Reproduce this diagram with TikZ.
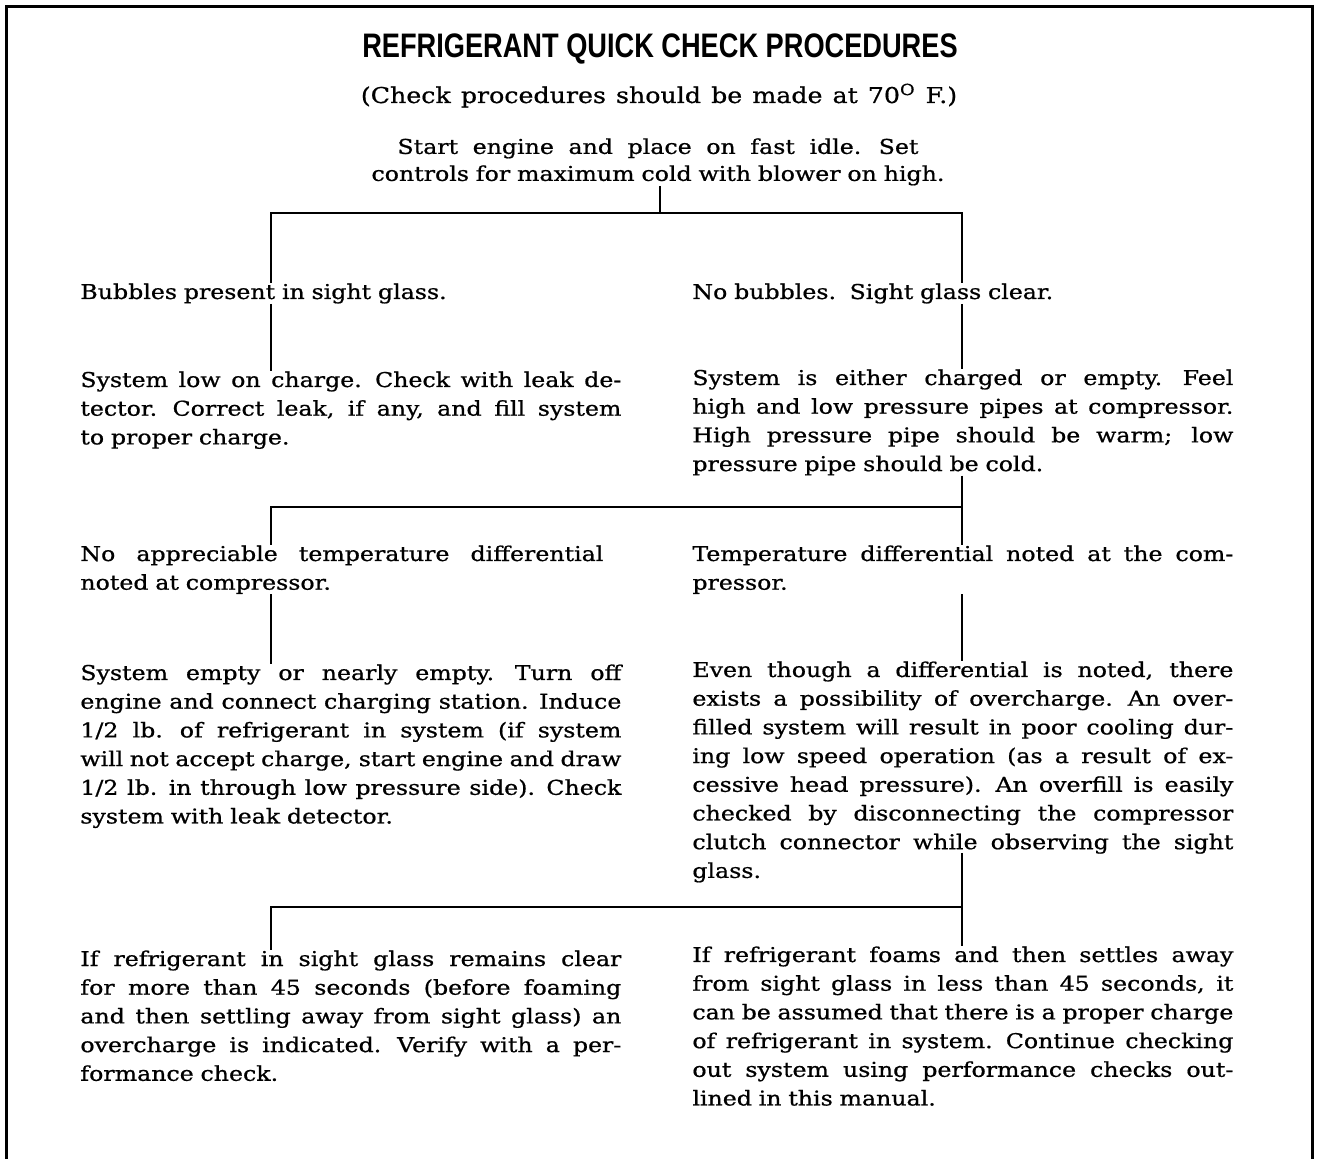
\documentclass[tikz,border=0pt]{standalone}
\usepackage{fontspec}
\setmainfont{DejaVu Serif}[FakeStretch=1.16,FakeBold=0.8,WordSpace=1.25]
\newfontfamily\headfont{Liberation Sans}[FakeStretch=0.80]
\usetikzlibrary{positioning}

% width of one column of text, and a line spread out to it
\newlength\colw
\setlength\colw{270.5pt}
\newcommand\jline[2][\colw]{\makebox[#1][s]{\spaceskip=\fontdimen2\font plus 1fil minus \fontdimen4\font
  \xspaceskip=1.3\fontdimen2\font plus 1fil minus \fontdimen4\font #2}}

\begin{document}
\begin{tikzpicture}[x=0.5pt,y=-0.5pt,
  txt/.style={anchor=base west,inner sep=0pt,text width=\colw,align=left,font=\fontsize{10.2}{14.35}\selectfont},
  link/.style={line width=1pt},
  outer/.style={line width=1.5pt}]
\useasboundingbox (0,0) rectangle (1318,1159);
\draw[outer] (6,1159) -- (6,7) -- (1312,7) -- (1312,1159);

% heading
\node[anchor=base,inner sep=0pt,font=\headfont\bfseries\fontsize{17}{20}\selectfont] (title) at (660,58) {REFRIGERANT QUICK CHECK PROCEDURES};
\node[anchor=base,inner sep=0pt,font=\fontsize{10.9}{14}\selectfont] (sub) at (659,103) {(Check procedures should be made at 70\textsuperscript{O} F.)};
\node[anchor=north,align=center,inner sep=0pt,font=\fontsize{10.2}{13.5}\selectfont] (start) at (658,138)
  {\jline[260.5pt]{Start engine and place on fast idle. Set}\\
   \jline[286.5pt]{controls for maximum cold with blower on high.}};

% first pair
\node[txt] (bub) at (80,299) {Bubbles present in sight glass.};
\node[txt] (nobub) at (692,299) {No bubbles.\ \ Sight glass clear.};

\node[txt] (low) at (80,387) {\jline{System low on charge. Check with leak de-}\\
  \jline{tector. Correct leak, if any, and fill system}\\
  to proper charge.};
\node[txt] (either) at (692,385) {\jline{System is either charged or empty. Feel}\\
  \jline{high and low pressure pipes at compressor.}\\
  \jline{High pressure pipe should be warm; low}\\
  pressure pipe should be cold.};

% second pair
\node[txt] (noapp) at (80,561) {\jline[261.5pt]{No appreciable temperature differential}\\
  noted at compressor.};
\node[txt] (tdiff) at (692,561) {\jline{Temperature differential noted at the com-}\\
  pressor.};

\node[txt] (empty) at (80,680) {\jline{System empty or nearly empty. Turn off}\\
  \jline{engine and connect charging station. Induce}\\
  \jline{1/2 lb. of refrigerant in system (if system}\\
  \jline{will not accept charge, start engine and draw}\\
  \jline{1/2 lb. in through low pressure side). Check}\\
  system with leak detector.};
\node[txt] (even) at (692,677) {\jline{Even though a differential is noted, there}\\
  \jline{exists a possibility of overcharge. An over-}\\
  \jline{filled system will result in poor cooling dur-}\\
  \jline{ing low speed operation (as a result of ex-}\\
  \jline{cessive head pressure). An overfill is easily}\\
  \jline{checked by disconnecting the compressor}\\
  \jline{clutch connector while observing the sight}\\
  glass.};

% third pair
\node[txt] (clear) at (80,966) {\jline{If refrigerant in sight glass remains clear}\\
  \jline{for more than 45 seconds (before foaming}\\
  \jline{and then settling away from sight glass) an}\\
  \jline{overcharge is indicated. Verify with a per-}\\
  formance check.};
\node[txt] (foams) at (692,962) {\jline{If refrigerant foams and then settles away}\\
  \jline{from sight glass in less than 45 seconds, it}\\
  \jline{can be assumed that there is a proper charge}\\
  \jline{of refrigerant in system. Continue checking}\\
  \jline{out system using performance checks out-}\\
  lined in this manual.};

% connectors
\coordinate (lx) at (271,0);
\coordinate (rx) at (962,0);
\coordinate (f1) at (660,213);
\coordinate (f2) at (962,507);
\coordinate (f3) at (962,907);
\coordinate (ev) at ([yshift=15pt]even.south);

\draw[link] (start.south -| f1) -- (f1);
\draw[link] (bub.north -| lx) |- (f1) -| (nobub.north -| rx);
\draw[link] (bub.south -| lx) -- (low.north -| lx);
\draw[link] (nobub.south -| rx) -- (either.north -| rx);

\draw[link] (either.south -| rx) -- (tdiff.north -| rx);
\draw[link] (f2) -| (noapp.north -| lx);
\draw[link] (noapp.south -| lx) -- (empty.north -| lx);
\draw[link] (tdiff.south -| rx) -- (even.north -| rx);

\draw[link] (ev -| rx) -- (foams.north -| rx);
\draw[link] (f3) -| (clear.north -| lx);
\end{tikzpicture}
\end{document}
